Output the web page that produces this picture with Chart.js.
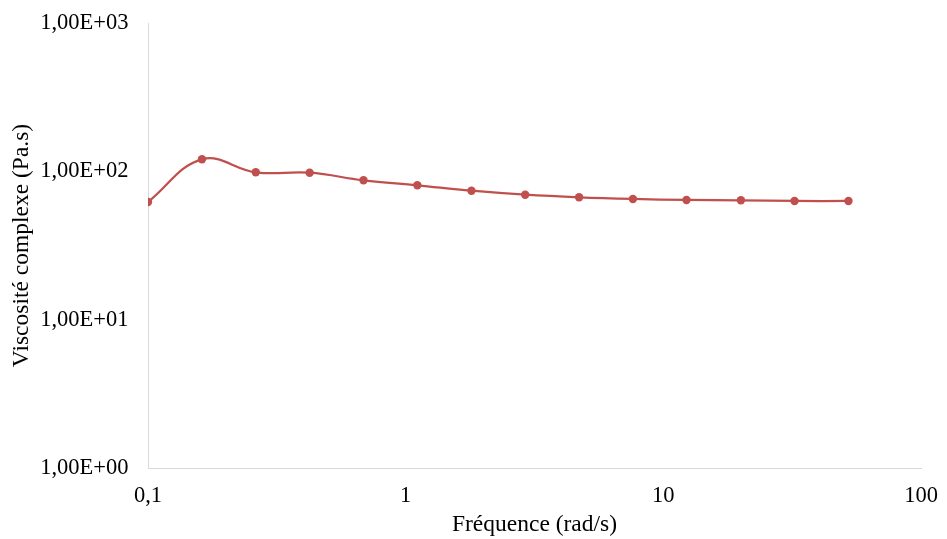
<!DOCTYPE html>
<html>
<head>
<meta charset="utf-8">
<script src="https://cdn.jsdelivr.net/npm/chart.js@4"></script>
<style>
  body { margin: 0; background: #fff; }
  canvas { display: block; }
</style>
</head>
<body>
<canvas id="chart" width="947" height="539"></canvas>
<script>
// frequency (rad/s) and complex viscosity (Pa.s)
const frequencies = [0.1, 0.162, 0.262, 0.424, 0.686, 1.11, 1.8, 2.91, 4.71, 7.62, 12.3, 20.0, 32.3, 52.3];
const viscosities = [62.1, 120.5, 98.5, 97.9, 87.0, 80.5, 74.0, 69.6, 66.8, 65.1, 64.1, 63.8, 63.1, 63.1];

const xTicks = [0.1, 1, 10, 100];
const xTickLabels = ['0,1', '1', '10', '100'];
const yTicks = [1, 10, 100, 1000];
const yTickLabels = ['1,00E+00', '1,00E+01', '1,00E+02', '1,00E+03'];

const serif = '"Liberation Serif", "Times New Roman", serif';
const axisColor = '#d9d9d9';
const lineColor = '#c0504d';

const ctx = document.getElementById('chart').getContext('2d');

new Chart(ctx, {
  type: 'line',
  data: {
    datasets: [
      {
        label: 'Viscosité complexe',
        data: frequencies.map((f, i) => ({ x: f, y: viscosities[i] })),
        borderColor: lineColor,
        backgroundColor: lineColor,
        borderWidth: 2.25,
        pointRadius: 4.2,
        pointBorderWidth: 0,
        tension: 0.4,
        fill: false,
      },
    ],
  },
  options: {
    responsive: false,
    animation: false,
    layout: {
      padding: { top: 23, right: 26, bottom: 0, left: 0 },
    },
    plugins: {
      legend: { display: false },
      tooltip: { enabled: false },
    },
    scales: {
      x: {
        type: 'logarithmic',
        min: 0.1,
        max: 100,
        afterBuildTicks: (scale) => {
          scale.ticks = xTicks.map((v) => ({ value: v }));
        },
        afterFit: (scale) => {
          scale.height = 71;
          scale.paddingLeft = 0;
          scale.paddingRight = 0;
        },
        grid: { display: false, drawTicks: false },
        border: { display: true, color: axisColor, width: 1 },
        ticks: {
          autoSkip: false,
          maxRotation: 0,
          padding: 15,
          color: '#000',
          font: { family: serif, size: 22.5 },
          callback: (value) => xTickLabels[xTicks.indexOf(value)] ?? '',
        },
        title: {
          display: true,
          text: 'Fréquence (rad/s)',
          color: '#000',
          font: { family: serif, size: 23.5 },
          padding: { top: 0, bottom: 0 },
        },
      },
      y: {
        type: 'logarithmic',
        min: 1,
        max: 1000,
        afterBuildTicks: (scale) => {
          scale.ticks = yTicks.map((v) => ({ value: v }));
        },
        afterFit: (scale) => {
          scale.width = 148;
          scale.paddingTop = 0;
          scale.paddingBottom = 0;
        },
        grid: { display: false, drawTicks: false },
        border: { display: true, color: axisColor, width: 1 },
        ticks: {
          autoSkip: false,
          padding: 19.5,
          color: '#000',
          font: { family: serif, size: 22.5 },
          callback: (value) => yTickLabels[yTicks.indexOf(value)] ?? '',
        },
        title: {
          display: true,
          text: 'Viscosité complexe (Pa.s)',
          color: '#000',
          font: { family: serif, size: 23.5 },
          padding: { top: 7.5, bottom: 0 },
        },
      },
    },
  },
});
</script>
</body>
</html>
